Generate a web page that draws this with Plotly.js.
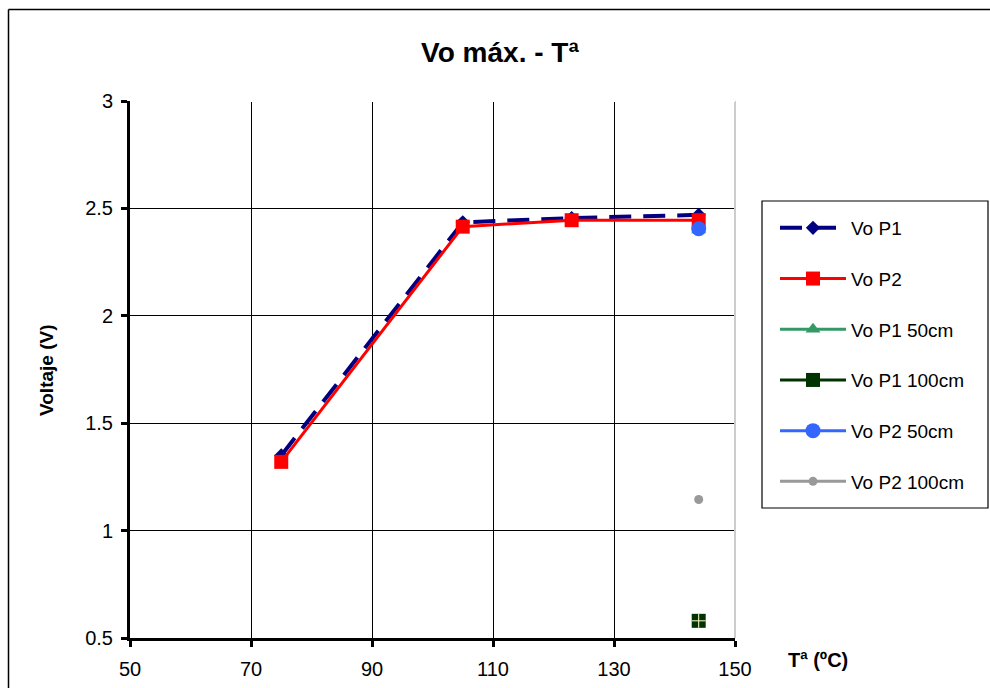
<!DOCTYPE html>
<html>
<head>
<meta charset="utf-8">
<script src="https://cdn.plot.ly/plotly-3.0.1.min.js"></script>
<style>html,body{margin:0;padding:0;background:#fff;}#chart{width:990px;height:688px;}</style>
</head>
<body>
<div id="chart"></div>
<script>
// Data
const tempP1 = [75, 105, 123, 144];
const voP1 = [1.35, 2.435, 2.455, 2.47];
const tempP2 = [75, 105, 123, 144];
const voP2 = [1.32, 2.415, 2.445, 2.445];
const tempP1_50 = [144];
const voP1_50 = [2.40];
const tempP1_100 = [144];
const voP1_100 = [0.58];
const tempP2_50 = [144];
const voP2_50 = [2.405];
const tempP2_100 = [144];
const voP2_100 = [1.145];
const xTicks = [50, 70, 90, 110, 130, 150];
const yTicks = [0.5, 1, 1.5, 2, 2.5, 3];
const yTickText = ['0.5', '1', '1.5', '2', '2.5', '3'];

const FONT = 'Liberation Sans, Arial, sans-serif';
const px = v => (v - 130) / 605;
const py = v => (638 - v) / 537;

const traces = [
  {x: tempP1, y: voP1, name: 'Vo P1', mode: 'lines+markers', legendgroup: 'a',
   line: {color: '#000080', width: 4, dash: '22px,12px'},
   marker: {symbol: 'diamond', size: 11, color: '#000080'}},
  {x: tempP2, y: voP2, name: 'Vo P2', mode: 'lines+markers', legendgroup: 'b',
   line: {color: '#ff0000', width: 3},
   marker: {symbol: 'square', size: 14, color: '#ff0000'}},
  {x: tempP1_50, y: voP1_50, name: 'Vo P1 50cm', mode: 'lines+markers', legendgroup: 'c',
   line: {color: '#339966', width: 3},
   marker: {symbol: 'triangle-up', size: 13, color: '#339966'}},
  {x: tempP1_100, y: voP1_100, name: 'Vo P1 100cm', mode: 'lines+markers', legendgroup: 'd',
   line: {color: '#003300', width: 3},
   marker: {symbol: 'square', size: 14, color: '#003300'}},
  {x: tempP1_100, y: voP1_100, name: 'Vo P1 100cm', mode: 'markers', legendgroup: 'd', showlegend: false,
   marker: {symbol: 'cross-thin-open', size: 10, color: '#ffffcc', line: {color: '#ffffcc', width: 1}}},
  {x: tempP2_50, y: voP2_50, name: 'Vo P2 50cm', mode: 'lines+markers', legendgroup: 'e',
   line: {color: '#3366ff', width: 3},
   marker: {symbol: 'circle', size: 15, color: '#3366ff'}},
  {x: tempP2_100, y: voP2_100, name: 'Vo P2 100cm', mode: 'lines+markers', legendgroup: 'f',
   line: {color: '#999999', width: 3},
   marker: {symbol: 'circle', size: 9, color: '#999999'}}
];

const layout = {
  width: 990, height: 688,
  margin: {l: 130, r: 255, t: 101, b: 50},
  paper_bgcolor: '#ffffff', plot_bgcolor: '#ffffff',
  font: {family: FONT, size: 20, color: '#000'},
  title: {text: '<b>Vo máx. - Tª</b>', font: {family: FONT, size: 28, color: '#000'},
          xref: 'container', x: 0.505, y: 1 - 52/688, yanchor: 'middle'},
  xaxis: {range: [50, 150], tickvals: xTicks, ticktext: xTicks.map(String),
          showgrid: true, gridcolor: '#000000', gridwidth: 1,
          showline: true, linecolor: '#000', linewidth: 3,
          ticks: 'outside', ticklen: 6, tickwidth: 3, tickcolor: '#000', ticklabelstandoff: 5,
          tickfont: {family: FONT, size: 20}, zeroline: false, fixedrange: true},
  yaxis: {range: [0.5, 3], tickvals: yTicks, ticktext: yTickText,
          showgrid: true, gridcolor: '#000000', gridwidth: 1,
          showline: true, linecolor: '#000', linewidth: 3,
          ticks: 'outside', ticklen: 6, tickwidth: 3, tickcolor: '#000', ticklabelstandoff: 4,
          tickfont: {family: FONT, size: 20}, zeroline: false, fixedrange: true},
  legend: {x: px(775), xanchor: 'left', y: py(209), yanchor: 'top',
           borderwidth: 0, bgcolor: 'rgba(0,0,0,0)',
           font: {family: FONT, size: 19}, tracegroupgap: 23, itemwidth: 66},
  showlegend: true,
  shapes: [
    {type: 'line', xref: 'paper', yref: 'paper', x0: 1, x1: 1, y0: 0, y1: 1,
     line: {color: '#cccccc', width: 2}},
    {type: 'line', xref: 'paper', yref: 'paper', x0: 0.005, x1: 1, y0: 1, y1: 1,
     line: {color: '#ffffff', width: 2}},
    {type: 'rect', xref: 'paper', yref: 'paper', x0: px(762), x1: px(988), y0: py(508), y1: py(201),
     line: {color: '#000', width: 1.2}, fillcolor: 'rgba(0,0,0,0)'},
    {type: 'line', xref: 'paper', yref: 'paper', x0: px(8.5), x1: px(8.5), y0: py(690), y1: py(9.5),
     line: {color: '#000', width: 1.5}},
    {type: 'line', xref: 'paper', yref: 'paper', x0: px(8.5), x1: px(992), y0: py(9.5), y1: py(9.5),
     line: {color: '#000', width: 1.5}}
  ],
  annotations: [
    {text: '<b>Voltaje (V)</b>', xref: 'paper', yref: 'paper', x: px(46), y: py(370),
     textangle: -90, showarrow: false, font: {family: FONT, size: 19}, xanchor: 'center', yanchor: 'middle'},
    {text: '<b>Tª (ºC)</b>', xref: 'paper', yref: 'paper', x: px(818), y: py(660),
     showarrow: false, font: {family: FONT, size: 20}, xanchor: 'center', yanchor: 'middle'}
  ]
};

Plotly.newPlot('chart', traces, layout, {displayModeBar: false, staticPlot: true});
</script>
</body>
</html>
